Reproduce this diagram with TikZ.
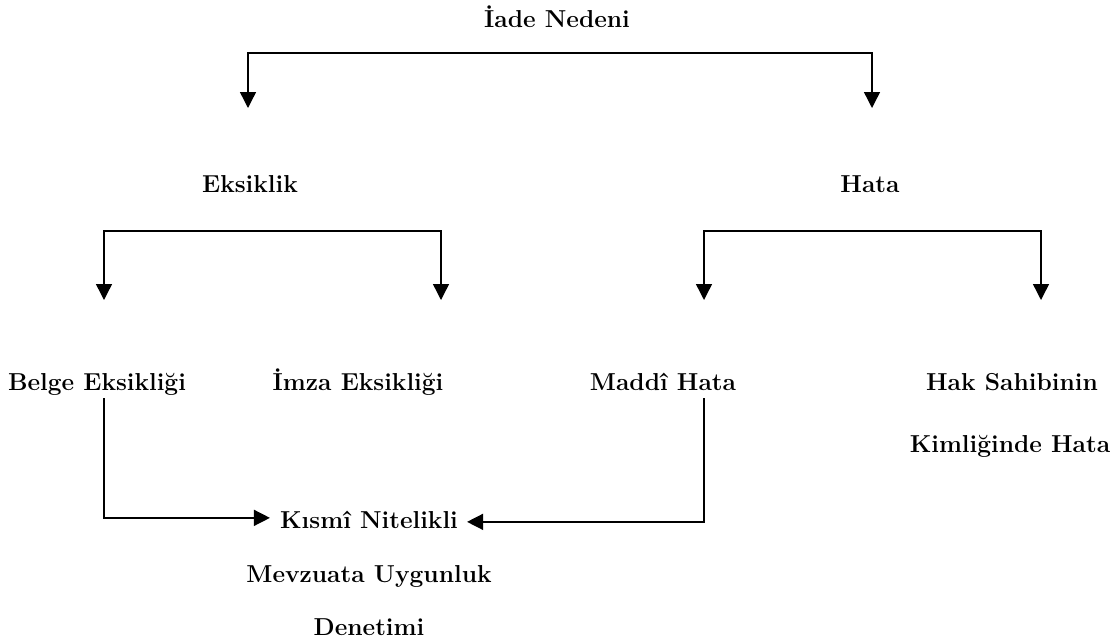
\documentclass[tikz,border=0pt]{standalone}
\usepackage{fontspec}
\usetikzlibrary{arrows.meta,positioning}

\tikzset{
  lbl/.style={font=\bfseries\fontsize{24.5}{29}\selectfont, inner sep=0pt, anchor=base},
  fork/.style={line width=1.4pt, {Triangle[length=16pt,width=16pt]}-{Triangle[length=16pt,width=16pt]}},
  tip/.style={line width=1.4pt, -{Triangle[length=16pt,width=16pt]}}
}

\begin{document}
\begin{tikzpicture}[x=1pt,y=-1pt]
    \useasboundingbox (0,0) rectangle (1114,641);
    %\draw[lightgray] (0,0) grid[step=50] (1114,641);

    % labels
    \node[lbl] (iade) at (557,27) {İade Nedeni};
    \node[lbl] (eksik) at (250,192) {Eksiklik};
    \node[lbl] (hata) at (870,192) {Hata};
    \node[lbl] (belge) at (97,390) {Belge Eksikliği};
    \node[lbl] (imza) at (358,390) {İmza Eksikliği};
    \node[lbl] (maddi) at (663,390) {Maddî Hata};
    \node[lbl] (hak) at (1012,390) {Hak Sahibinin};
    \node[lbl] (kimlik) at (1010,452) {Kimliğinde Hata};
    \node[lbl] (kismi) at (369,528) {Kısmî Nitelikli};
    \node[lbl] (mevzuat) at (369,582) {Mevzuata Uygunluk};
    \node[lbl] (denetim) at (369,635) {Denetimi};

    % fork ends
    \coordinate (t1) at (248,108);
    \coordinate (t0) at (560,53);
    \coordinate (t2) at (872,108);
    \coordinate (e1) at (104,300);
    \coordinate (e0) at (270,231);
    \coordinate (e2) at (441,300);
    \coordinate (h1) at (704,300);
    \coordinate (h0) at (870,231);
    \coordinate (h2) at (1041,300);
    \coordinate (b0) at (104,398);
    \coordinate (m0) at (704,398);

    \draw[fork] (t1) |- (t0) -| (t2);
    \draw[fork] (e1) |- (e0) -| (e2);
    \draw[fork] (h1) |- (h0) -| (h2);

    \draw[tip, shorten >=10pt] (b0) |- ([yshift=1.5pt]kismi.west);
    \draw[tip, shorten >=9pt] (m0) |- ([yshift=-2.5pt]kismi.east);
\end{tikzpicture}
\end{document}
